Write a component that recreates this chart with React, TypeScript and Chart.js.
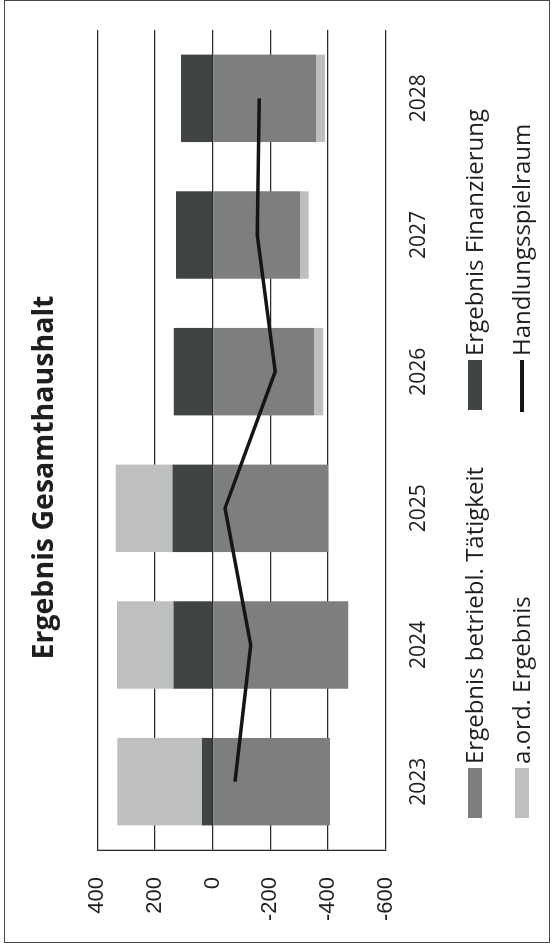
import React, { useEffect, useRef } from 'react';
import { Chart, registerables } from 'chart.js';

Chart.register(...registerables);

// Haushaltsjahre
const years = ['2023', '2024', '2025', '2026', '2027', '2028'];

// Ergebniskomponenten (Tsd. €)
const betrieblTaetigkeit = [-407, -471, -401, -353, -303, -359];
const finanzierung = [37, 136, 139, 135, 127, 110];
const aordErgebnis = [294, 196, 197, -31, -31, -31];
const handlungsspielraum = [-78, -132, -43, -217, -155, -162];

// Werteachse
const valueTicks = [-600, -400, -200, 0, 200, 400];

const seriesNames = [
  'Ergebnis betriebl. Tätigkeit',
  'Ergebnis Finanzierung',
  'a.ord. Ergebnis',
  'Handlungsspielraum',
];

const COLORS = {
  betriebl: '#7c7f7d',
  finanz: '#404543',
  aord: '#bec0bf',
  line: '#151515',
  grid: '#2b2b2b',
  text: '#1e1e1e',
};

// Legende im 2x2-Raster unter der Grafik
const gridLegend = {
  id: 'gridLegend',
  afterDraw(chart: any) {
    const { ctx, chartArea } = chart;
    ctx.save();
    ctx.font = '24px "Open Sans"';
    ctx.textBaseline = 'middle';
    ctx.textAlign = 'left';
    chart.data.datasets.forEach((ds: any, i: number) => {
      const col = i % 2;
      const row = Math.floor(i / 2);
      const x0 = chartArea.left + 32 + col * 408;
      const yc = chartArea.bottom + 89.5 + row * 47;
      if (ds.type === 'line') {
        ctx.strokeStyle = ds.borderColor;
        ctx.lineWidth = 4;
        ctx.beginPath();
        ctx.moveTo(x0 - 2, yc);
        ctx.lineTo(x0 + 50, yc);
        ctx.stroke();
      } else {
        ctx.fillStyle = ds.backgroundColor;
        ctx.fillRect(x0, yc - 7, 50, 14);
      }
      ctx.fillStyle = COLORS.text;
      ctx.fillText(ds.label, x0 + 54, yc + 1);
    });
    ctx.restore();
  },
};

export default function App() {
  const canvasRef = useRef<HTMLCanvasElement | null>(null);

  useEffect(() => {
    const canvas = canvasRef.current;
    if (!canvas) return;
    const step = valueTicks[1] - valueTicks[0];
    const chart = new Chart(canvas, {
      data: {
        labels: years,
        datasets: [
          {
            type: 'bar',
            label: seriesNames[0],
            data: betrieblTaetigkeit,
            backgroundColor: COLORS.betriebl,
            stack: 'ergebnis',
            categoryPercentage: 1,
            barPercentage: 0.64,
            order: 1,
          },
          {
            type: 'bar',
            label: seriesNames[1],
            data: finanzierung,
            backgroundColor: COLORS.finanz,
            stack: 'ergebnis',
            categoryPercentage: 1,
            barPercentage: 0.64,
            order: 1,
          },
          {
            type: 'bar',
            label: seriesNames[2],
            data: aordErgebnis,
            backgroundColor: COLORS.aord,
            stack: 'ergebnis',
            categoryPercentage: 1,
            barPercentage: 0.64,
            order: 1,
          },
          {
            type: 'line',
            label: seriesNames[3],
            data: handlungsspielraum,
            borderColor: COLORS.line,
            backgroundColor: COLORS.line,
            borderWidth: 3.5,
            pointRadius: 0,
            tension: 0,
            stack: 'linie',
            order: 0,
          },
        ],
      },
      options: {
        responsive: false,
        animation: false,
        layout: { padding: { left: 25, right: 30, top: 0, bottom: 0 } },
        plugins: {
          legend: { display: false },
          tooltip: { enabled: false },
          title: {
            display: true,
            text: 'Ergebnis Gesamthaushalt',
            color: COLORS.text,
            font: { family: '"Open Sans"', size: 28.5, weight: 'bold', lineHeight: 1.2 },
            padding: { top: 27.5, bottom: 35.6 },
          },
        },
        scales: {
          x: {
            grid: { display: false, drawTicks: false },
            border: { display: false },
            ticks: {
              color: COLORS.text,
              font: { family: '"Open Sans"', size: 21 },
              padding: 21,
              maxRotation: 0,
            },
            afterFit: (s: any) => {
              s.height = 169.5;
            },
          },
          y: {
            stacked: true,
            min: valueTicks[0],
            max: valueTicks[valueTicks.length - 1],
            grid: { color: COLORS.grid, lineWidth: 1.3, drawTicks: false },
            border: { display: true, color: COLORS.grid, width: 1.3 },
            ticks: {
              stepSize: step,
              color: COLORS.text,
              font: { family: '"Liberation Sans"', size: 22 },
              padding: 27,
            },
            afterFit: (s: any) => {
              s.width = 75;
            },
          },
        },
      },
      plugins: [gridLegend],
    } as any);
    return () => chart.destroy();
  }, []);

  return (
    <div
      style={{
        position: 'fixed',
        left: 0,
        top: 0,
        width: 555,
        height: 950,
        background: '#ffffff',
        overflow: 'hidden',
      }}
    >
      <div
        style={{
          position: 'absolute',
          left: 0,
          top: 0,
          width: 950,
          height: 555,
          transformOrigin: '0 0',
          transform: 'translateY(950px) rotate(-90deg)',
        }}
      >
        <canvas
          ref={canvasRef}
          width={950}
          height={555}
          style={{ display: 'block', width: 950, height: 555 }}
        />
      </div>
      <div
        style={{
          position: 'absolute',
          left: 4,
          top: 0,
          width: 546,
          height: 943,
          border: '1.5px solid #474747',
          boxSizing: 'border-box',
          pointerEvents: 'none',
        }}
      />
    </div>
  );
}
